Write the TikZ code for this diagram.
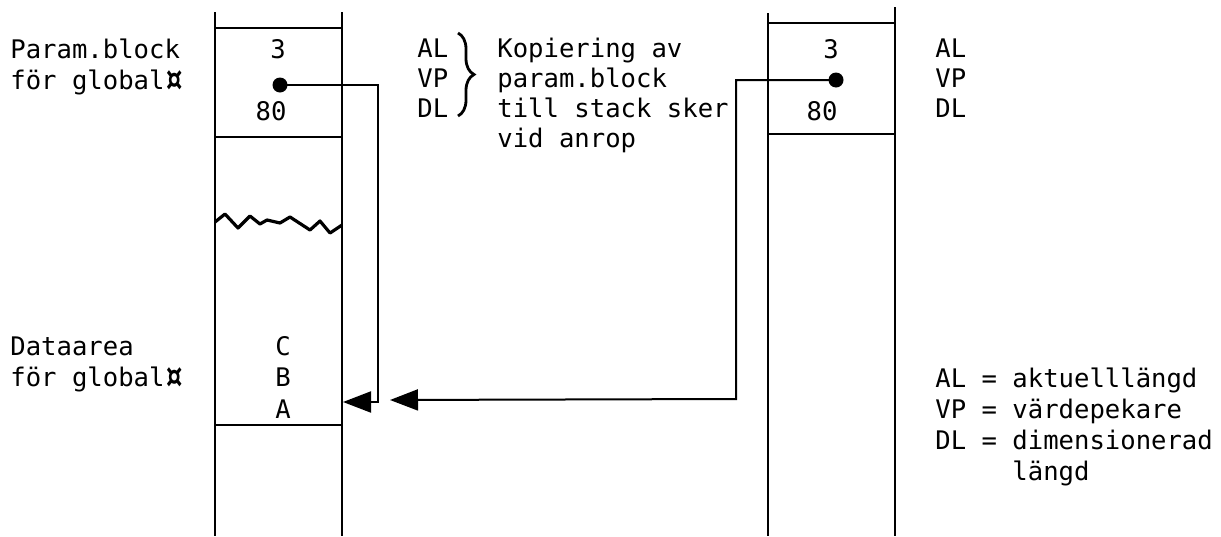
\documentclass[tikz,border=0pt]{standalone}
\usepackage{fontspec}
\setmainfont{DejaVu Sans Mono}
\usetikzlibrary{arrows.meta,decorations.pathreplacing}
\newcommand{\curr}{\raisebox{-2.2pt}{\scalebox{1.25}[1.65]{\bfseries ¤}}}
\tikzset{
  stk/.style={line width=1.3pt},
  conn/.style={line width=1pt},
  txt/.style={anchor=base west, inner sep=0pt, font=\fontsize{12.8}{15}\selectfont},
  ctxt/.style={anchor=base, inner sep=0pt, font=\fontsize{12.8}{15}\selectfont},
  dotnode/.style={circle, fill=black, inner sep=0pt, minimum size=7.5pt},
  bigarrow/.style={-{Triangle[length=14pt,width=10.5pt]}}
}
\begin{document}
\begin{tikzpicture}[x=0.5pt,y=-0.5pt]
\useasboundingbox (0,0) rectangle (1221,536);
% left stack
\draw[stk] (215,12) -- (215,536);
\draw[stk] (342,12) -- (342,536);
\draw[stk] (215,28) -- (342,28);
\draw[stk] (215,137) -- (342,137);
\draw[stk] (215,425) -- (342,425);
\draw[line width=1.6pt, line join=round] (215,222) -- (225,214) -- (238,228) -- (250,216) -- (260,224) -- (267,220) -- (280,223) -- (290,217) -- (310,230) -- (320,221) -- (330,233) -- (342,225);
% right stack
\draw[stk] (768,13) -- (768,536);
\draw[stk] (895,7) -- (895,536);
\draw[stk] (768,23) -- (895,23);
\draw[stk] (768,134) -- (895,134);
% left texts
\node[txt] (pb1) at (10,58) {Param.block};
\node[txt] (pb2) at (10,89) {för global\curr};
\node[ctxt] (l3) at (278,58) {3};
\node[dotnode] (d1) at (280,85) {};
\node[ctxt] (l80) at (271,120) {80};
\node[txt] (da1) at (10,355) {Dataarea};
\node[txt] (da2) at (10,386) {för global\curr};
\node[ctxt] (lc) at (283,355) {C};
\node[ctxt] (lb) at (283,386) {B};
\node[ctxt] (la) at (283,418) {A};
% middle texts
\node[txt] (m1) at (417,57) {AL};
\node[txt] (m2) at (417,87) {VP};
\node[txt] (m3) at (417,117) {DL};
\draw[line width=1.4pt, decorate, decoration={brace, amplitude=8pt}] (458,33) -- (458,116);
\node[txt] (k1) at (497,57) {Kopiering av};
\node[txt] (k2) at (497,87) {param.block};
\node[txt] (k3) at (497,117) {till stack sker};
\node[txt] (k4) at (497,147) {vid anrop};
% right stack texts
\node[ctxt] (r3) at (831,58) {3};
\node[dotnode] (d2) at (836,80) {};
\node[ctxt] (r80) at (822,120) {80};
\node[txt] (r1) at (935,57) {AL};
\node[txt] (r2) at (935,87) {VP};
\node[txt] (r3b) at (935,117) {DL};
% legend
\node[txt] (g1) at (935,387) {AL = aktuelllängd};
\node[txt] (g2) at (935,418) {VP = värdepekare};
\node[txt] (g3) at (935,449) {DL = dimensionerad};
\node[txt] (g4) at (935,480) {\hphantom{DL = }längd};
% connectors
\coordinate (c1a) at (378,85);
\coordinate (c1b) at (378,402);
\coordinate (t1) at (343,402);
\draw[conn] (d1.center) -- (c1a) -- (c1b) -- (370,402);
\draw[conn, bigarrow] (c1b) -- (t1);
\coordinate (c2a) at (736,80);
\coordinate (c2b) at (736,399);
\coordinate (t2) at (390,400);
\draw[conn, bigarrow] (d2.center) -- (c2a) -- (c2b) -- (t2);
\end{tikzpicture}
\end{document}
